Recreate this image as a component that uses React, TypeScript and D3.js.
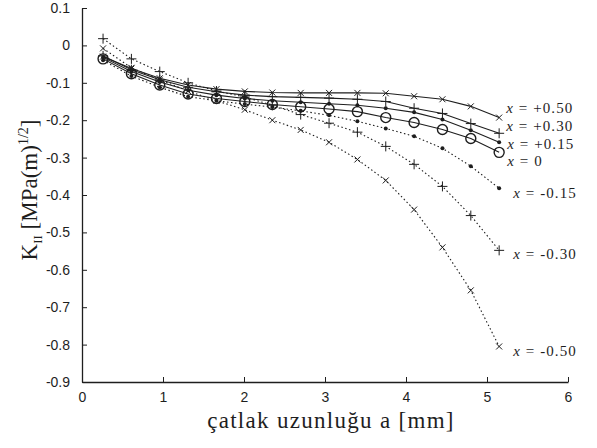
import * as d3 from "d3";
import { useEffect, useRef } from "react";

// crack length a [mm]
const crackLength = [0.26, 0.61, 0.96, 1.31, 1.66, 2.01, 2.35, 2.7, 3.05, 3.4, 3.75, 4.1, 4.45, 4.8, 5.15];

const kPos050 = [-0.03, -0.062, -0.088, -0.106, -0.117, -0.123, -0.126, -0.127, -0.127, -0.127, -0.128, -0.136, -0.144, -0.163, -0.193];
const kPos030 = [-0.028, -0.065, -0.092, -0.112, -0.124, -0.133, -0.137, -0.139, -0.141, -0.144, -0.15, -0.168, -0.182, -0.209, -0.235];
const kPos015 = [-0.032, -0.07, -0.098, -0.12, -0.133, -0.142, -0.148, -0.152, -0.156, -0.16, -0.168, -0.179, -0.198, -0.227, -0.259];
const kZero = [-0.036, -0.076, -0.106, -0.13, -0.142, -0.15, -0.158, -0.164, -0.17, -0.177, -0.193, -0.206, -0.225, -0.249, -0.286];
const kNeg015 = [-0.04, -0.082, -0.112, -0.137, -0.148, -0.157, -0.165, -0.175, -0.187, -0.203, -0.222, -0.243, -0.275, -0.323, -0.382];
const kNeg030 = [0.018, -0.036, -0.07, -0.1, -0.122, -0.138, -0.16, -0.185, -0.208, -0.232, -0.27, -0.318, -0.377, -0.455, -0.548];
const kNeg050 = [-0.008, -0.06, -0.092, -0.122, -0.148, -0.172, -0.2, -0.226, -0.259, -0.305, -0.361, -0.439, -0.54, -0.655, -0.805];

const seriesLabels = ["+0.50", "+0.30", "+0.15", "0", "-0.15", "-0.30", "-0.50"];
const seriesValues = [kPos050, kPos030, kPos015, kZero, kNeg015, kNeg030, kNeg050];
const seriesMarkers = ["x", "+", "dot", "o", "dot", "+", "x"];
const seriesDotted = [false, false, false, false, true, true, true];

const xTicks = [0, 1, 2, 3, 4, 5, 6];
const yTicks = [0.1, 0, -0.1, -0.2, -0.3, -0.4, -0.5, -0.6, -0.7, -0.8, -0.9];

// label nudges (px) so the end labels don't pile up
const labelDy = [-10, -8, 1, 8, 4, 3, 4];
const labelDx = [7, 7, 8, 8, 14, 14, 14];

const W = 597;
const H = 448;
const INK = "#1e1e1e";
const SERIF = "'Liberation Serif', 'Times New Roman', serif";

export default function App() {
  const ref = useRef<SVGSVGElement>(null);

  useEffect(() => {
    const svg = d3.select(ref.current);
    svg.selectAll("*").remove();

    const x = d3.scaleLinear().domain([0, 6]).range([82, 568]);
    const y = d3.scaleLinear().domain([-0.9, 0.1]).range([382, 8]);

    // axes: only left and bottom, ticks pointing inward
    const xAxis = svg.append("g").attr("transform", `translate(0,${y(-0.9)})`)
      .call(d3.axisBottom(x).tickValues(xTicks).tickSizeInner(-5).tickSizeOuter(0).tickPadding(10).tickFormat(d3.format("d")));
    const yAxis = svg.append("g").attr("transform", `translate(${x(0)},0)`)
      .call(d3.axisLeft(y).tickValues(yTicks).tickSizeInner(-5).tickSizeOuter(0).tickPadding(12).tickFormat((d) => String(d)));

    [xAxis, yAxis].forEach((g) => {
      g.select(".domain").attr("stroke", INK).attr("stroke-width", 1.3);
      g.selectAll(".tick line").attr("stroke", INK);
      g.selectAll(".tick text").attr("fill", INK)
        .style("font-family", "'Liberation Sans', Arial, sans-serif").style("font-size", "14px");
    });

    const line = d3.line<[number, number]>().x((d) => x(d[0])).y((d) => y(d[1]));

    seriesValues.forEach((vals, i) => {
      const pts: [number, number][] = crackLength.map((a, j) => [a, vals[j]]);
      const g = svg.append("g");
      g.append("path")
        .attr("d", line(pts))
        .attr("fill", "none")
        .attr("stroke", INK)
        .attr("stroke-width", seriesDotted[i] ? 1.1 : 1.1)
        .attr("stroke-dasharray", seriesDotted[i] ? "1.5,2.5" : null);

      const m = seriesMarkers[i];
      pts.forEach(([a, v]) => {
        const cx = x(a), cy = y(v);
        if (m === "x") {
          const s = 3;
          g.append("path").attr("d", `M${cx - s},${cy - s}L${cx + s},${cy + s}M${cx - s},${cy + s}L${cx + s},${cy - s}`)
            .attr("stroke", INK).attr("stroke-width", 1);
        } else if (m === "+") {
          const s = 5;
          g.append("path").attr("d", `M${cx - s},${cy}L${cx + s},${cy}M${cx},${cy - s}L${cx},${cy + s}`)
            .attr("stroke", INK).attr("stroke-width", 1);
        } else if (m === "o") {
          g.append("circle").attr("cx", cx).attr("cy", cy).attr("r", 5)
            .attr("fill", "none").attr("stroke", INK).attr("stroke-width", 1.4);
        } else {
          g.append("circle").attr("cx", cx).attr("cy", cy).attr("r", 2).attr("fill", INK);
        }
      });

      const last = pts[pts.length - 1];
      const t = svg.append("text")
        .attr("x", x(last[0]) + labelDx[i])
        .attr("y", y(last[1]) + labelDy[i])
        .attr("dy", "0.35em")
        .attr("fill", INK)
        .style("font-family", SERIF)
        .style("font-size", "15px")
        .style("letter-spacing", "1.1px");
      t.append("tspan").attr("font-style", "italic").text("x");
      t.append("tspan").text(` = ${seriesLabels[i]}`);
    });

    // axis titles
    svg.append("text")
      .attr("x", 331).attr("y", 428)
      .attr("text-anchor", "middle")
      .attr("fill", INK)
      .style("font-family", SERIF)
      .style("font-size", "23px")
      .style("letter-spacing", "1.3px")
      .text("çatlak uzunluğu a [mm]");

    const yl = svg.append("text")
      .attr("transform", "translate(37,190) rotate(-90)")
      .attr("text-anchor", "middle")
      .attr("fill", INK)
      .style("font-family", SERIF)
      .style("font-size", "23px");
    yl.append("tspan").text("K");
    yl.append("tspan").attr("dy", 5).style("font-size", "13px").text("II");
    yl.append("tspan").attr("dy", -5).text(" [MPa(m)");
    yl.append("tspan").attr("dy", -9).style("font-size", "14px").text("1/2");
    yl.append("tspan").attr("dy", 9).text("]");
  }, []);

  return (
    <svg ref={ref} width={W} height={H} style={{ position: "absolute", left: 0, top: 0, background: "#fff" }} />
  );
}
